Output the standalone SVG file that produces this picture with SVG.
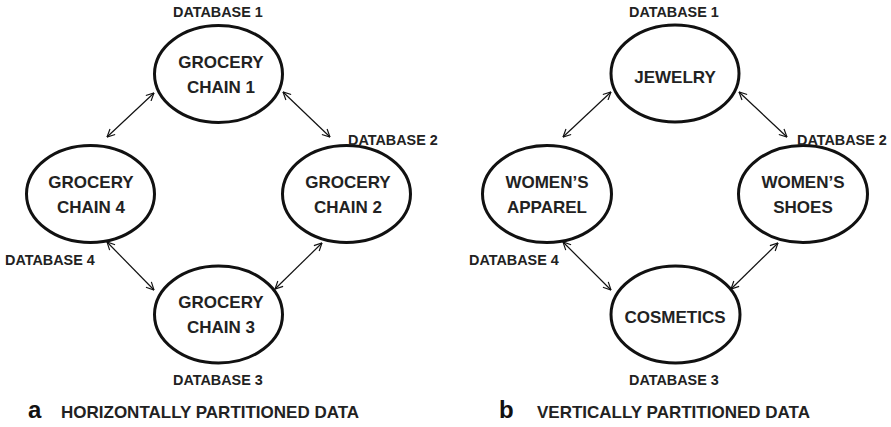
<svg xmlns="http://www.w3.org/2000/svg" width="891" height="427" viewBox="0 0 891 427">
<style>
.node ellipse{fill:#fff;stroke:#111;stroke-width:3}
.nt{font-family:"Liberation Sans",Arial,sans-serif;font-weight:bold;font-size:17px;fill:#222;text-anchor:middle}
.db{font-family:"Liberation Sans",Arial,sans-serif;font-weight:bold;font-size:14.4px;fill:#222}
.cap{font-family:"Liberation Sans",Arial,sans-serif;font-weight:bold;font-size:17px;fill:#222}
.let{font-family:"Liberation Sans",Arial,sans-serif;font-weight:bold;font-size:24px;fill:#111}
#connectors line{stroke:#111;stroke-width:1.2;marker-start:url(#ah);marker-end:url(#ah)}
</style>
<defs>
<marker id="ah" viewBox="0 0 10 10" refX="9.5" refY="5" markerWidth="9" markerHeight="9" markerUnits="userSpaceOnUse" orient="auto-start-reverse">
<path d="M1,0.8 L9.5,5 L1,9.2" fill="none" stroke="#111" stroke-width="1.3"/>
</marker>
</defs>
<rect width="891" height="427" fill="#fff"/>

<g id="connectors">
<line x1="154" y1="93" x2="107" y2="137"/>
<line x1="283" y1="92" x2="330" y2="137"/>
<line x1="107" y1="242" x2="154" y2="290"/>
<line x1="322" y1="243" x2="275" y2="289"/>
<line x1="611" y1="92" x2="563" y2="137"/>
<line x1="739" y1="92" x2="787" y2="137"/>
<line x1="563" y1="242" x2="611" y2="290"/>
<line x1="778" y1="243" x2="731" y2="289"/>
</g>

<g id="gc1" class="node"><ellipse cx="218.5" cy="74" rx="64" ry="48.5"/><text class="nt" x="221" y="68">GROCERY</text><text class="nt" x="221" y="93">CHAIN 1</text></g>
<g id="gc2" class="node"><ellipse cx="346.5" cy="194" rx="64" ry="48.5"/><text class="nt" x="348" y="188">GROCERY</text><text class="nt" x="348" y="213">CHAIN 2</text></g>
<g id="gc3" class="node"><ellipse cx="218.5" cy="314.5" rx="64" ry="48.5"/><text class="nt" x="221" y="308">GROCERY</text><text class="nt" x="221" y="333">CHAIN 3</text></g>
<g id="gc4" class="node"><ellipse cx="90.5" cy="194" rx="64" ry="48.5"/><text class="nt" x="91" y="188">GROCERY</text><text class="nt" x="91" y="213">CHAIN 4</text></g>

<g id="jew" class="node"><ellipse cx="675" cy="73.5" rx="64" ry="48.5"/><text class="nt" x="675" y="83">JEWELRY</text></g>
<g id="shoes" class="node"><ellipse cx="803" cy="194" rx="64.5" ry="48.5"/><text class="nt" x="803" y="188">WOMEN’S</text><text class="nt" x="803" y="213">SHOES</text></g>
<g id="cosm" class="node"><ellipse cx="675.5" cy="314.5" rx="64.5" ry="48.5"/><text class="nt" x="675" y="323">COSMETICS</text></g>
<g id="app" class="node"><ellipse cx="547" cy="194" rx="64.5" ry="48.5"/><text class="nt" x="547" y="188">WOMEN’S</text><text class="nt" x="547" y="213">APPAREL</text></g>

<g id="labels">
<text class="db" x="173" y="17">DATABASE 1</text>
<text class="db" x="348" y="145">DATABASE 2</text>
<text class="db" x="173" y="385">DATABASE 3</text>
<text class="db" x="5" y="265">DATABASE 4</text>
<text class="db" x="629" y="17">DATABASE 1</text>
<text class="db" x="797" y="145">DATABASE 2</text>
<text class="db" x="629" y="385">DATABASE 3</text>
<text class="db" x="469" y="265">DATABASE 4</text>
<text class="let" x="28" y="418">a</text>
<text class="cap" x="61" y="418">HORIZONTALLY PARTITIONED DATA</text>
<text class="let" x="499" y="418">b</text>
<text class="cap" x="537" y="418">VERTICALLY PARTITIONED DATA</text>
</g>
</svg>
